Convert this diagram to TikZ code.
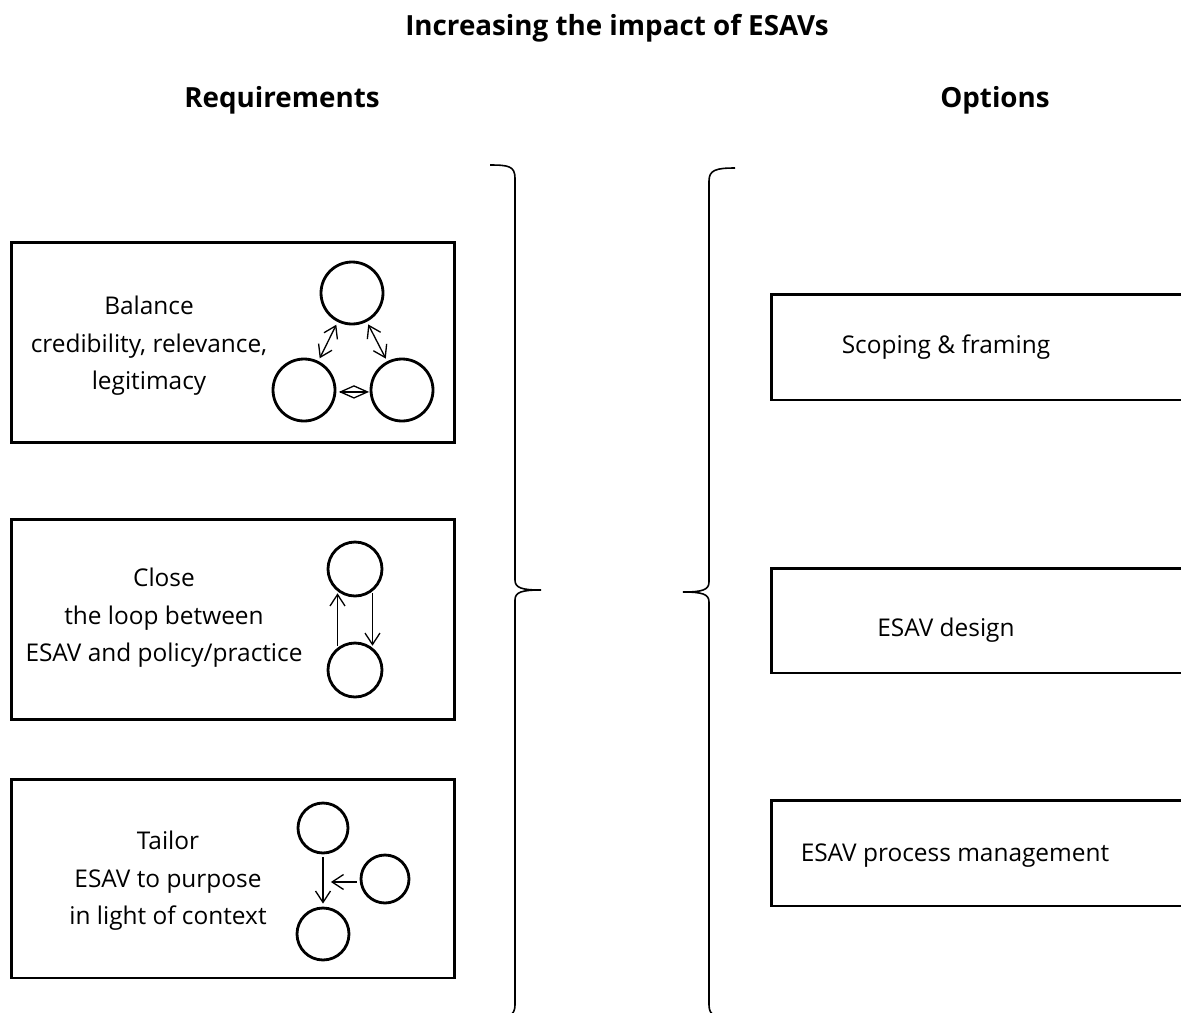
\documentclass[tikz,border=0pt]{standalone}
\usepackage{fontspec}
\setmainfont{Open Sans}
\usetikzlibrary{arrows.meta}

\tikzset{
  reqbox/.style={draw, line width=1.7pt, minimum width=8.88cm, minimum height=4.02cm},
  optbox/.style={draw, line width=1.7pt, minimum width=8.8cm, minimum height=2.12cm},
  ring/.style={draw, circle, line width=1.6pt, inner sep=0pt},
  lbl/.style={align=center, font=\fontsize{13.9}{21.4}\selectfont},
  head/.style={font=\fontsize{15.8}{19}\bfseries\selectfont},
  link/.style={line width=0.75pt},
  brace/.style={line width=0.9pt},
}

\begin{document}
\begin{tikzpicture}
		[
		x=0.02cm, y=-0.02cm, >={Straight Barb[length=6.5pt, width=8.5pt]}
		%1 Einheit = 1 Pixel der Vorlage
		]
		
		%Rahmen
		\useasboundingbox (0,0) rectangle (1181,1012);
		\clip (0,0) rectangle (1181,1012);
		
		%Ueberschriften
		\node[head] (title) at (617,28) {Increasing the impact of ESAVs};
		\node[head] (reqhead) at (282,100) {Requirements};
		\node[head] (opthead) at (995,100) {Options};
		
		%Kaesten links
		\node[reqbox] (req1) at (233,342.5) {};
		\node[reqbox] (req2) at (233,619.5) {};
		\node[reqbox, minimum height=3.98cm] (req3) at (233,878.5) {};
		
		\node[lbl] (txt1) at (149,346) {Balance\\credibility, relevance,\\legitimacy};
		\node[lbl] (txt2) at (164,618) {Close\\the loop between\\ESAV and policy/practice};
		\node[lbl] (txt3) at (168,881) {Tailor\\ESAV to purpose\\in light of context};
		
		%Kreise im ersten Kasten
		\node[ring, minimum size=1.24cm] (c1a) at (352,293) {};
		\node[ring, minimum size=1.24cm] (c1b) at (304,390) {};
		\node[ring, minimum size=1.24cm] (c1c) at (402,390) {};
		\draw[link, <->, shorten <=1.7pt, shorten >=1.7pt] (c1a) -- (c1b);
		\draw[link, <->, shorten <=1.7pt, shorten >=1.7pt] (c1a) -- (c1c);
		%kurzer Doppelpfeil als Raute
		\draw[link, line join=miter] ([xshift=2.3pt, yshift=-1.1pt]c1b.east) coordinate (dl) -- ++(13.5,-6) -- ++(13.5,6) coordinate (dr) -- ++(-13.5,6) -- cycle;
		\draw[link] (dl) -- (dr);
		
		%Kreise im zweiten Kasten
		\node[ring, minimum size=1.08cm] (c2a) at (355,569) {};
		\node[ring, minimum size=1.08cm] (c2b) at (355,670) {};
		\draw[link, ->, shorten <=1.1pt, shorten >=1.1pt] (c2b.128) -- (c2a.232);
		\draw[link, ->, shorten <=1.1pt, shorten >=1.1pt] (c2a.308) -- (c2b.52);
		
		%Kreise im dritten Kasten
		\node[ring, minimum size=1.0cm] (c3a) at (323,828) {};
		\node[ring, minimum size=0.96cm] (c3b) at (385,879) {};
		\node[ring, minimum size=1.04cm] (c3c) at (323,934) {};
		\draw[link, ->, shorten <=1.7pt, shorten >=1.7pt] (c3a) -- (c3c);
		\draw[link, ->, shorten <=1.7pt, shorten >=4.5pt] ([yshift=-1.7pt]c3b.west) -- ([yshift=-1.7pt]c3b.west -| c3a.south);
		
		%Kaesten rechts
		\node[optbox] (opt1) at (991,347) {};
		\node[optbox, minimum height=2.1cm] (opt2) at (991,620.5) {};
		\node[optbox] (opt3) at (991,853) {};
		
		\node[lbl] (otxt1) at (946,347) {Scoping \& framing};
		\node[lbl] (otxt2) at (946,630) {ESAV design};
		\node[lbl] (otxt3) at (955,856) {ESAV process management};
		
		%Klammer links
		\draw[brace] (490,165) .. controls (508,165) and (515,166) .. (515,178)
			-- (515,580) .. controls (515,588) and (522,590) .. (541,590)
			.. controls (522,590) and (515,592) .. (515,600)
			-- (515,1005) .. controls (515,1016) and (508,1018) .. (490,1018);
		
		%Klammer rechts
		\draw[brace] (735,168) .. controls (716,168) and (709,170) .. (709,181)
			-- (709,582) .. controls (709,590) and (702,592) .. (683,592)
			.. controls (702,592) and (709,594) .. (709,602)
			-- (709,1005) .. controls (709,1016) and (716,1018) .. (735,1018);
		
	\end{tikzpicture}
\end{document}
